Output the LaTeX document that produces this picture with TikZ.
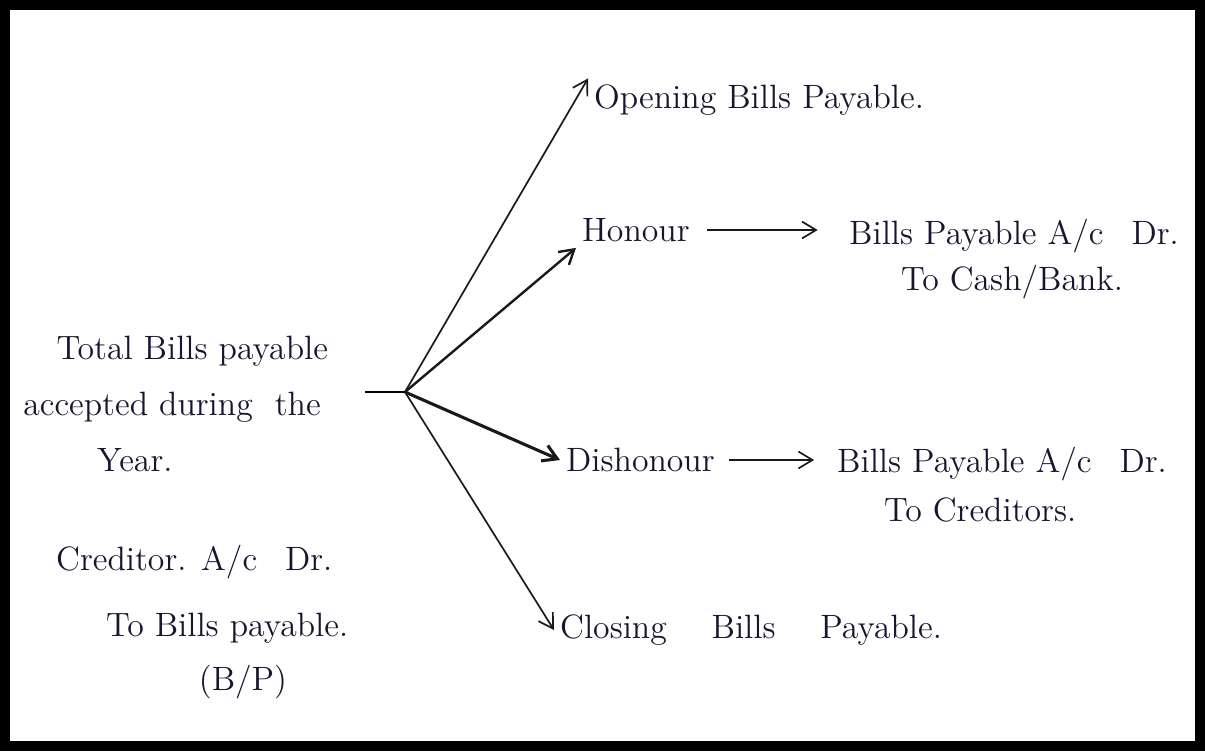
\documentclass[tikz,border=0pt]{standalone}
\usepackage{xcolor}
\usepackage{tikz}
\usetikzlibrary{arrows.meta,positioning}

\definecolor{ink}{RGB}{22,22,48}

\begin{document}
\begin{tikzpicture}[
  x=0.0125cm, y=-0.0125cm,
  >={Straight Barb[length=5pt,width=6pt]},
  txt/.style={font=\large, text=ink, anchor=west, inner sep=2pt},
  arrow/.style={->, line width=0.6pt, black!90},
]
\useasboundingbox (0,0) rectangle (1205,751);
\fill[white] (0,0) rectangle (1205,751);
\draw[line width=3.6pt, black] (5,5) rectangle (1200,746);

% === Left side: total and entry ===
\node[font=\large, text=ink, align=center] (total) at (172, 404)
  {\hspace*{1.2em}Total Bills payable\\[6pt]
   accepted during \ the\\[6pt]
   \hspace*{-2.2em}Year.};

\node[txt] (cred) at (50, 562) {Creditor. A/c \enspace Dr.};
\node[txt] (credto) at (100, 628) {To Bills payable.};
\node[font=\large, text=ink] (bp) at (243, 682) {(B/P)};

% === Hub ===
\coordinate (stub) at (365, 392);
\coordinate (hub) at (405, 392);
\draw[line width=0.7pt] (stub) -- (hub);

% === Right side: outcomes ===
\node[txt] (open) at (588, 100) {Opening Bills Payable.};
\node[txt] (hon) at (576, 230) {Honour};
\node[txt] (dis) at (560, 460) {Dishonour};
\node[txt] (close) at (554, 630) {Closing \quad Bills \quad Payable.};

\draw[arrow] (hub) -- (open.north west);
\draw[arrow, line width=0.85pt] (hub) -- (hon.south west);
\draw[arrow, line width=1.1pt] (hub) -- (dis.west);
\draw[arrow] (hub) -- (close.west);

% === Journal entries ===
\node[txt] (hondr) at (843, 236) {Bills Payable A/c \enspace Dr.};
\node[txt] (honcr) at (895, 282) {To Cash/Bank.};
\node[txt] (disdr) at (831, 464) {Bills Payable A/c \enspace Dr.};
\node[txt] (discr) at (878, 510) {To Creditors.};

\draw[arrow, shorten <=4pt, shorten >=9pt] (hon.east) -- (hon.east -| hondr.west);
\draw[arrow, shorten <=3pt, shorten >=6pt] (dis.east) -- (dis.east -| disdr.west);

\end{tikzpicture}
\end{document}
